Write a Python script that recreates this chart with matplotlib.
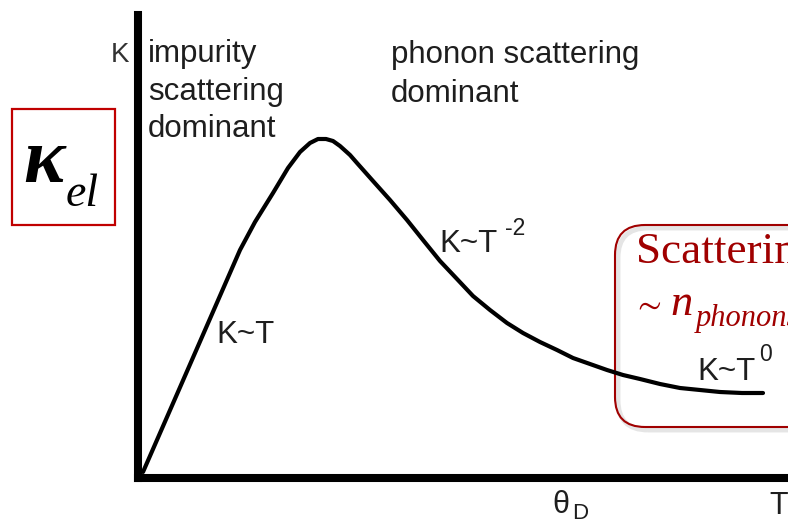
import matplotlib
matplotlib.use("Agg")
import matplotlib.pyplot as plt
from matplotlib.patches import FancyBboxPatch, Rectangle

plt.rcParams['mathtext.fontset'] = 'stix'

# Sketch of kappa(T): linear rise, peak, T^-2 fall, flat tail (arbitrary units)
temp = [0.05, 1.02, 1.17, 1.35, 1.50, 1.62, 1.72, 1.80, 1.88, 1.95, 2.02,
        2.12, 2.19, 2.35, 2.52, 2.69, 2.85, 3.02, 3.19, 3.35, 3.52, 3.69,
        3.85, 4.02, 4.19, 4.35, 4.52, 4.69, 4.85, 5.02, 5.22, 5.42, 5.62,
        5.82, 6.04, 6.25]
kappa = [0.06, 2.28, 2.56, 2.85, 3.10, 3.26, 3.35, 3.39, 3.39, 3.37, 3.32,
         3.23, 3.15, 2.97, 2.78, 2.58, 2.38, 2.17, 1.99, 1.82, 1.68, 1.55,
         1.45, 1.36, 1.28, 1.20, 1.14, 1.08, 1.03, 0.99, 0.94, 0.90, 0.88,
         0.86, 0.85, 0.85]

regime_left = ['impurity', 'scattering', 'dominant']
regime_right = ['phonon scattering', 'dominant']
slope_labels = ['Κ~T', 'Κ~T', 'Κ~T']
slope_powers = ['', '-2', '0']

W, H = 788, 525
fig = plt.figure(figsize=(W / 100, H / 100), dpi=100)

ax = fig.add_axes([138 / W, (H - 478) / H, (W - 138) / W, (478 - 15) / H])
ax.patch.set_visible(False)
ax.plot(temp, kappa, color='black', lw=3.0, solid_capstyle='round',
        solid_joinstyle='round', zorder=3)
ax.set_xlim(0, 6.5)
ax.set_ylim(0, 4.63)
for side in ['top', 'right']:
    ax.spines[side].set_visible(False)
for side in ['left', 'bottom']:
    ax.spines[side].set_linewidth(5.8)
    ax.spines[side].set_capstyle('projecting')
ax.set_xticks([])
ax.set_yticks([])

tr = fig.dpi_scale_trans


def put(x, y, s, **kw):
    # x, y in pixels measured from the top-left corner
    kw.setdefault('family', 'Liberation Sans')
    kw.setdefault('color', '#1e1e1e')
    kw.setdefault('va', 'baseline')
    kw.setdefault('ha', 'left')
    return fig.text(x / 100, (H - y) / 100, s, transform=tr, **kw)


# axis letters
put(111, 62, 'Κ', fontsize=20, color='#333333')
put(552, 513, 'θ', fontsize=22)
put(572, 519, 'D', fontsize=16)
put(769, 514, 'T', fontsize=22)

# regime captions
for s, yb in zip(regime_left, [62, 100, 137]):
    put(148, yb, s, fontsize=22.5)
for s, yb in zip(regime_right, [63, 102]):
    put(391, yb, s, fontsize=22.5)

# power-law labels along the curve
for s, p, (xl, yl), (xp, yp) in zip(slope_labels, slope_powers,
                                    [(216, 343), (439, 252), (697, 380)],
                                    [(0, 0), (505, 235), (759, 361)]):
    put(xl, yl, s, fontsize=22.5)
    if p:
        put(xp, yp, p, fontsize=16.5)

# kappa_el tag
fig.add_artist(Rectangle((12 / 100, (H - 225) / 100), 1.03, 1.16,
                         transform=tr, facecolor='white',
                         edgecolor='#c00000', lw=1.6))
put(23, 182, 'κ', family='Liberation Serif', style='italic', weight='bold',
    fontsize=56, color='black')
put(66, 206, 'el', family='Liberation Serif', style='italic',
    fontsize=33, color='black')

# rounded call-out on the right, with a soft shadow
for dx, dy, col, a, lw in [(3, -3, '#999999', 0.25, 3.5), (0, 0, '#a00000', 1, 1.5)]:
    fig.add_artist(FancyBboxPatch(((615 + dx) / 100, (H - 427 + dy) / 100), 2.4, 2.02,
                                  boxstyle='round,pad=0,rounding_size=0.3',
                                  transform=tr, facecolor='none',
                                  edgecolor=col, alpha=a, lw=lw, zorder=-1))
red = '#a00000'
put(636, 263, 'Scattering', family='Liberation Serif', fontsize=32.5, color=red)
put(632, 314, r'$\sim$', fontsize=25, color=red)
put(670, 315, 'n', family='Liberation Serif', style='italic', fontsize=32, color=red)
put(696, 326, 'phonons', family='Liberation Serif', style='italic', fontsize=22, color=red)

fig.savefig('out.png', dpi=100)
